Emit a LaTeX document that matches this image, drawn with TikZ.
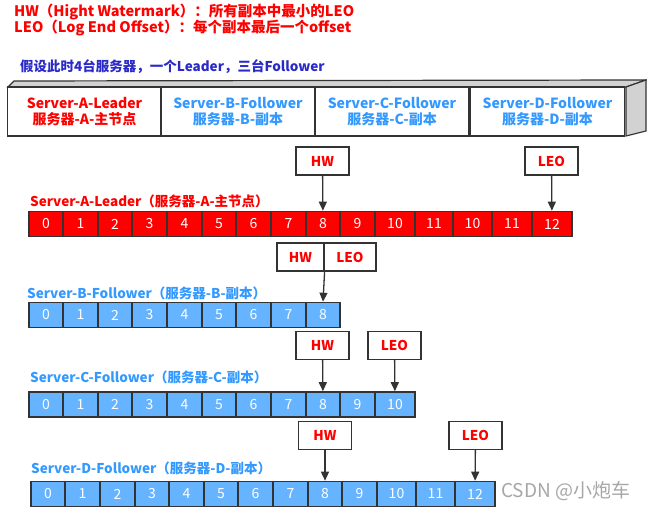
\documentclass[tikz,border=0pt]{standalone}
\usepackage{fontspec}
\setmainfont{Noto Sans CJK SC}
\usetikzlibrary{arrows.meta}
\definecolor{kred}{HTML}{FF0000}
\definecolor{kblue}{HTML}{3399FF}
\definecolor{kcell}{HTML}{66B3FF}
\definecolor{knavy}{HTML}{2A2AC8}
\definecolor{kline}{HTML}{333333}
\tikzset{
  cellA/.style={draw=kline, line width=1.6pt, fill=kred, text=white, font=\fontsize{14}{14}\selectfont, inner sep=0pt},
  cellB/.style={cellA, fill=kcell},
  markbox/.style={draw=kline, line width=1.2pt, fill=white, text=kred, font=\bfseries\fontsize{13.5}{13.5}\selectfont, inner sep=0pt, minimum width=53pt, minimum height=28pt},
  srvbox/.style={draw=kline, line width=1.2pt, fill=white, font=\bfseries\fontsize{14}{16}\selectfont, align=center, inner sep=0pt, minimum width=154pt, minimum height=49pt},
  rowlabel/.style={anchor=west, font=\bfseries\fontsize{13.5}{13.5}\selectfont, inner sep=0pt},
  pointer/.style={-{Triangle[length=9pt,width=8pt]}, draw=kline, line width=1.3pt}
}
\begin{document}
\begin{tikzpicture}[x=1pt, y=-1pt]
  \useasboundingbox (0,0) rectangle (647,510);
  % Legend
  \node[rowlabel, text=kred, font=\bfseries\fontsize{14.5}{14.5}\selectfont] (hwdef) at (14,12) {HW（Hight Watermark）：所有副本中最小的LEO};
  \node[rowlabel, text=kred, font=\bfseries\fontsize{14.5}{14.5}\selectfont] (leodef) at (14,28) {LEO（Log End Offset）：每个副本最后一个offset};
  \node[rowlabel, text=knavy] (intro) at (20,67) {假设此时4台服务器，一个Leader，三台Follower};

  % Server boxes (3D bar)
  \fill[gray!35, draw=kline, line width=1.2pt] (8,87) -- (14,81) -- (646,80) -- (626,87) -- cycle;
  \fill[gray!35, draw=kline, line width=1.2pt] (626,87) -- (646,80) -- (646,131) -- (626,136) -- cycle;
  \node[srvbox, text=kred] (srvA) at (84.5,111.5) {Server-A-Leader\\服务器-A-主节点};
  \node[srvbox, text=kblue] (srvB) at (238,111.5) {Server-B-Follower\\服务器-B-副本};
  \node[srvbox, text=kblue] (srvC) at (392,111.5) {Server-C-Follower\\服务器-C-副本};
  \node[srvbox, text=kblue] (srvD) at (547.5,111.5) {Server-D-Follower\\服务器-D-副本};

  % Leader log
  \node[rowlabel, text=kred] (labA) at (30,201) {Server-A-Leader（服务器-A-主节点）};
  \foreach \l/\r/\t [count=\i] in {29/63/0,63/98/1,98/132/2,132/167/3,167/202/4,202/236/5,236/271/6,271/306/7,306/340/8,340/375/9,375/415/10,415/453/11,453/492/10,492/532/11,532/572/12}
    \node[cellA, minimum width={(\r-\l)*1pt}, minimum height=25pt] (a\i) at ({(\l+\r)/2},224) {\t};
  \node[markbox] (hwA) at (322.5,161) {HW};
  \node[markbox] (leoA) at (551.5,161) {LEO};
  \draw[pointer] (hwA) -- (a9);
  \draw[pointer] (leoA) -- (a15);

  % Follower B
  \node[markbox, minimum width=47pt] (hwB) at (300.5,257) {HW};
  \node[markbox, minimum width=52pt] (leoB) at (350,257) {LEO};
  \node[rowlabel, text=kblue] (labB) at (27,293) {Server-B-Follower（服务器-B-副本）};
  \foreach \l/\r/\t [count=\i] in {29/63/0,63/98/1,98/132/2,132/167/3,167/202/4,202/236/5,236/271/6,271/306/7,306/340/8}
    \node[cellB, minimum width={(\r-\l)*1pt}, minimum height=25pt] (b\i) at ({(\l+\r)/2},315) {\t};
  \draw[pointer] (hwB.south east) -- (b9.north);

  % Follower C
  \node[markbox] (hwC) at (322.5,345.5) {HW};
  \node[markbox] (leoC) at (394.5,345.5) {LEO};
  \node[rowlabel, text=kblue] (labC) at (30,377) {Server-C-Follower（服务器-C-副本）};
  \foreach \l/\r/\t [count=\i] in {29/63/0,63/98/1,98/132/2,132/167/3,167/202/4,202/236/5,236/271/6,271/306/7,306/340/8,340/375/9,375/415/10}
    \node[cellB, minimum width={(\r-\l)*1pt}, minimum height=25pt] (c\i) at ({(\l+\r)/2},404.5) {\t};
  \draw[pointer] (hwC) -- (c9);
  \draw[pointer] (leoC) -- (c11);

  % Follower D
  \node[markbox] (hwD) at (325,435.5) {HW};
  \node[markbox] (leoD) at (475.5,435.5) {LEO};
  \node[rowlabel, text=kblue] (labD) at (31,468) {Server-D-Follower（服务器-D-副本）};
  \foreach \l/\r/\t [count=\i] in {31/65/0,65/100/1,100/135/2,135/169/3,169/204/4,204/238/5,238/273/6,273/308/7,308/342/8,342/377/9,377/416/10,416/455/11,455/495/12}
    \node[cellB, minimum width={(\r-\l)*1pt}, minimum height=25pt] (d\i) at ({(\l+\r)/2},494) {\t};
  \draw[pointer] (hwD) -- (d9);
  \draw[pointer] (leoD) -- (d13);

  % Watermark
  \node[anchor=west, text=gray!70, font=\fontsize{19}{19}\selectfont, inner sep=0pt] (mark) at (501,491) {CSDN @小炮车};
\end{tikzpicture}
\end{document}
